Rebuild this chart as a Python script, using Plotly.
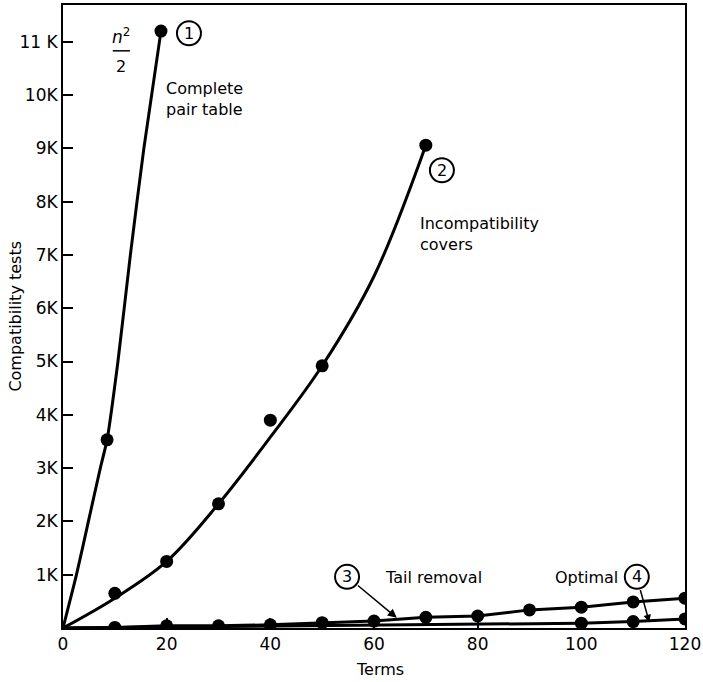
import plotly.graph_objects as go

FONT = "DejaVu Sans"

# ---- data ----
# Curve 1: complete pair table (n^2/2)
c1_dot_x = [8.5, 18.9]
c1_dot_y = [3530, 11200]
c1_line_x = [0, 2.6, 4.9, 7.2, 8.5, 10.6, 13.0, 15.6, 18.9]
c1_line_y = [0, 1000, 2000, 3000, 3530, 5000, 7000, 9000, 11200]

# Curve 2: incompatibility covers
c2_dot_x = [10, 20, 30, 40, 50, 70]
c2_dot_y = [650, 1250, 2330, 3900, 4920, 9060]
c2_line_x = [0, 10, 20, 30, 40, 50, 60, 70]
c2_line_y = [0, 560, 1250, 2330, 3580, 4920, 6600, 9060]

# Curve 3: tail removal
c3_x = [10, 20, 30, 40, 50, 60, 70, 80, 90, 100, 110, 120]
c3_y = [10, 40, 40, 60, 100, 130, 200, 225, 340, 390, 490, 560]
c3_line_x = [0] + c3_x
c3_line_y = [0] + c3_y

# Curve 4: optimal
c4_dot_x = [100, 110, 120]
c4_dot_y = [90, 120, 170]
c4_line_x = [0, 20, 40, 60, 80, 100, 110, 120]
c4_line_y = [0, 20, 40, 60, 70, 90, 120, 170]

x_ticks = [0, 20, 40, 60, 80, 100, 120]
y_ticks = [1000, 2000, 3000, 4000, 5000, 6000, 7000, 8000, 9000, 10000, 11000]
y_tick_text = ["1K", "2K", "3K", "4K", "5K", "6K", "7K", "8K", "9K", "10K", "11 K"]

fig = go.Figure()

line_style = dict(color="black", width=3)
marker_style = dict(color="black", size=13)

fig.add_trace(go.Scatter(x=c1_line_x, y=c1_line_y, mode="lines",
                         line=dict(**line_style, shape="spline", smoothing=0.6)))
fig.add_trace(go.Scatter(x=c1_dot_x, y=c1_dot_y, mode="markers", marker=marker_style))
fig.add_trace(go.Scatter(x=c2_line_x, y=c2_line_y, mode="lines",
                         line=dict(**line_style, shape="spline", smoothing=1.0)))
fig.add_trace(go.Scatter(x=c2_dot_x, y=c2_dot_y, mode="markers", marker=marker_style))
fig.add_trace(go.Scatter(x=c3_line_x, y=c3_line_y, mode="lines", line=line_style))
fig.add_trace(go.Scatter(x=c3_x, y=c3_y, mode="markers", marker=marker_style))
fig.add_trace(go.Scatter(x=c4_line_x, y=c4_line_y, mode="lines", line=line_style))
fig.add_trace(go.Scatter(x=c4_dot_x, y=c4_dot_y, mode="markers", marker=marker_style))

# circled labels
circles = [("1", 24.3, 11160), ("2", 73.1, 8590), ("3", 54.8, 960), ("4", 110.7, 960)]
shapes = []
annotations = []
for label, cx, cy in circles:
    shapes.append(dict(type="circle", xref="x", yref="y", xsizemode="pixel", ysizemode="pixel",
                       xanchor=cx, yanchor=cy, x0=-12, x1=12, y0=-12, y1=12,
                       line=dict(color="black", width=2)))
    annotations.append(dict(x=cx, y=cy, text=label, showarrow=False,
                            font=dict(family=FONT, size=16, color="black")))

# n^2/2 fraction
shapes.append(dict(type="line", xref="x", yref="y", x0=9.6, x1=12.9, y0=10830, y1=10830,
                   line=dict(color="black", width=1.5)))
annotations.append(dict(x=11.2, y=11110, text="<i>n</i><sup>2</sup>", showarrow=False,
                        font=dict(family=FONT, size=17, color="black")))
annotations.append(dict(x=11.2, y=10530, text="2", showarrow=False,
                        font=dict(family=FONT, size=16, color="black")))

text_font = dict(family=FONT, size=16, color="black")
annotations.append(dict(x=19.5, y=9930, text="Complete<br>pair table", showarrow=False,
                        xanchor="left", align="left", font=text_font))
annotations.append(dict(x=68.5, y=7400, text="Incompatibility<br>covers", showarrow=False,
                        xanchor="left", align="left", font=text_font))
annotations.append(dict(x=61.7, y=940, text="Tail removal", showarrow=False,
                        xanchor="left", font=text_font))
annotations.append(dict(x=94.5, y=940, text="Optimal", showarrow=False,
                        xanchor="left", font=text_font))

# axis titles
annotations.append(dict(xref="paper", yref="paper", x=-0.077, y=0.50, text="Compatibility tests",
                        xanchor="center", yanchor="middle",
                        textangle=-90, showarrow=False, font=dict(family=FONT, size=16, color="black")))
annotations.append(dict(xref="paper", yref="paper", x=0.51, y=-0.067, text="Terms",
                        xanchor="center", yanchor="middle",
                        showarrow=False, font=dict(family=FONT, size=16, color="black")))

# arrows
annotations.append(dict(x=64.4, y=190, ax=56.6, ay=820, axref="x", ayref="y", text="",
                        showarrow=True, arrowhead=2, arrowsize=1.2, arrowwidth=1.5,
                        arrowcolor="black"))
annotations.append(dict(x=113.1, y=110, ax=111.3, ay=740, axref="x", ayref="y", text="",
                        showarrow=True, arrowhead=2, arrowsize=1.0, arrowwidth=1.5,
                        arrowcolor="black"))

fig.update_layout(
    width=703, height=682,
    margin=dict(l=63, r=18, t=5, b=54),
    paper_bgcolor="white", plot_bgcolor="white",
    showlegend=False,
    shapes=shapes, annotations=annotations,
    font=dict(family=FONT, size=17, color="black"),
)
fig.update_xaxes(range=[0, 120], tickvals=x_ticks, ticks="inside", ticklen=10, tickwidth=2,
                 tickcolor="black", showline=True, linecolor="black", linewidth=2, mirror=True,
                 showgrid=False, zeroline=False, automargin=False,
                 tickfont=dict(family=FONT, size=17))
fig.update_yaxes(range=[0, 11690], tickvals=y_ticks, ticktext=y_tick_text, ticks="inside",
                 ticklen=10, tickwidth=2, tickcolor="black", showline=True, linecolor="black",
                 linewidth=2, mirror=True, showgrid=False, zeroline=False, automargin=False,
                 tickfont=dict(family=FONT, size=17))

fig.write_html("out.html", config={"displayModeBar": False},
               post_script="document.body.style.margin='0px';")
